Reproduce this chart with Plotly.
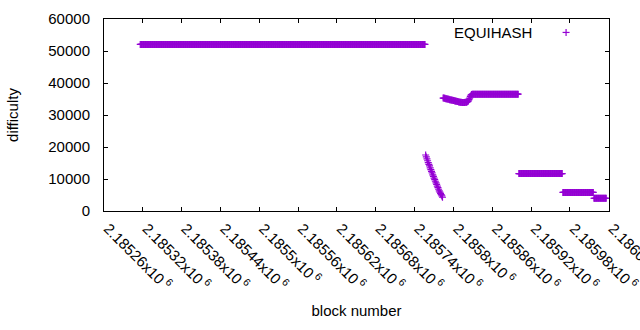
import numpy as np
import plotly.graph_objects as go

# ---- data ----
# flat runs of constant difficulty: first block, last block, difficulty
run_start = [2185316, 2185829, 2185901, 2185969, 2186017]
run_end = [2185756, 2185900, 2185968, 2186016, 2186036]
run_diff = [52040, 36500, 11700, 5800, 3980]

# steep drop, one value per block starting at drop_first_block
drop_first_block = 2185757
drop_diff = [17500, 16900, 16300, 15700, 15100, 14600, 14100, 13500, 12900,
             12400, 11900, 11300, 10800, 10300, 9800, 9300, 8800, 8300, 7800,
             7300, 6800, 6300, 5900, 5500, 5100, 4700, 4300]

# slowly sagging section, one value per block starting at sag_first_block
sag_first_block = 2185784
sag_diff = [35300, 35300, 35200, 35200, 35100, 35100,
            35000, 35000, 34900, 34900, 34800, 34800, 34700, 34700, 34600, 34600, 34500,
            34500, 34400, 34400, 34300, 34300, 34200, 34200,
            34100, 34100, 34000, 34000, 34000, 33900, 33900, 33900, 33900, 33900,
            34000, 34000, 34000, 34100, 34200,
            34400, 34800, 35300, 35800, 36200, 36400]

x_tick_vals = [2185260, 2185320, 2185380, 2185440, 2185500, 2185560, 2185620,
               2185680, 2185740, 2185800, 2185860, 2185920, 2185980, 2186040]
x_tick_mant = ["2.18526", "2.18532", "2.18538", "2.18544", "2.1855", "2.18556",
               "2.18562", "2.18568", "2.18574", "2.1858", "2.18586", "2.18592",
               "2.18598", "2.18604"]
y_tick_vals = [0, 10000, 20000, 30000, 40000, 50000, 60000]

series_name = "EQUIHASH"

# ---- assemble per-block series ----
blocks, diffs = [], []
for s, e, d in zip(run_start, run_end, run_diff):
    b = np.arange(s, e + 1)
    blocks.append(b)
    diffs.append(np.full(b.size, d))
blocks.append(drop_first_block + np.arange(len(drop_diff)))
diffs.append(np.array(drop_diff))
blocks.append(sag_first_block + np.arange(len(sag_diff)))
diffs.append(np.array(sag_diff))
blocks = np.concatenate(blocks)
diffs = np.concatenate(diffs)
order = np.argsort(blocks)
blocks, diffs = blocks[order], diffs[order]

COLOR = "#9400d3"
FONT = "Liberation Sans, Arial, sans-serif"

fig = go.Figure()
fig.add_trace(go.Scatter(
    x=blocks, y=diffs, mode="markers", name=series_name, showlegend=False,
    marker=dict(symbol="cross-thin", size=5, color=COLOR,
                line=dict(color=COLOR, width=1.2)),
))

ax_common = dict(
    showgrid=False, zeroline=False, showline=True, linecolor="black",
    linewidth=1, mirror="ticks", ticks="inside", ticklen=4, tickcolor="black",
    tickfont=dict(family=FONT, size=15, color="black"), automargin=False,
    ticklabeloverflow="allow",
)

fig.update_layout(
    template="none",
    width=640, height=330,
    margin=dict(l=104, r=31, t=19, b=119),
    paper_bgcolor="white", plot_bgcolor="white",
    font=dict(family=FONT, size=15, color="black"),
    xaxis=dict(range=[x_tick_vals[0], x_tick_vals[-1] + 0.3], tickvals=x_tick_vals,
               ticktext=[m + "x10<sup>\u00a06</sup>" for m in x_tick_mant],
               tickangle=45, ticklabelstandoff=2, ticklabelshift=4,
               title=dict(text="block number", font=dict(family=FONT, size=15),
                          standoff=12),
               **ax_common),
    yaxis=dict(range=[0, 60000], tickvals=y_tick_vals,
               ticktext=[str(v) for v in y_tick_vals],
               ticklabelstandoff=10,
               title=dict(text="difficulty", font=dict(family=FONT, size=15),
                          standoff=26),
               **ax_common),
    annotations=[dict(xref="paper", yref="paper", x=0.852, y=0.93,
                      xanchor="right", yanchor="middle", showarrow=False,
                      text=series_name, font=dict(family=FONT, size=15, color="black"))],
    shapes=[
        dict(type="line", xref="paper", yref="paper", xsizemode="pixel",
             ysizemode="pixel", xanchor=0.915, yanchor=0.93,
             x0=-3.5, x1=3.5, y0=0, y1=0, line=dict(color=COLOR, width=1.2)),
        dict(type="line", xref="paper", yref="paper", xsizemode="pixel",
             ysizemode="pixel", xanchor=0.915, yanchor=0.93,
             x0=0, x1=0, y0=-3.5, y1=3.5, line=dict(color=COLOR, width=1.2)),
    ],
)

fig.write_html("out.html", config={"displayModeBar": False},
               post_script="document.body.style.margin='0';document.body.style.overflow='hidden';")
